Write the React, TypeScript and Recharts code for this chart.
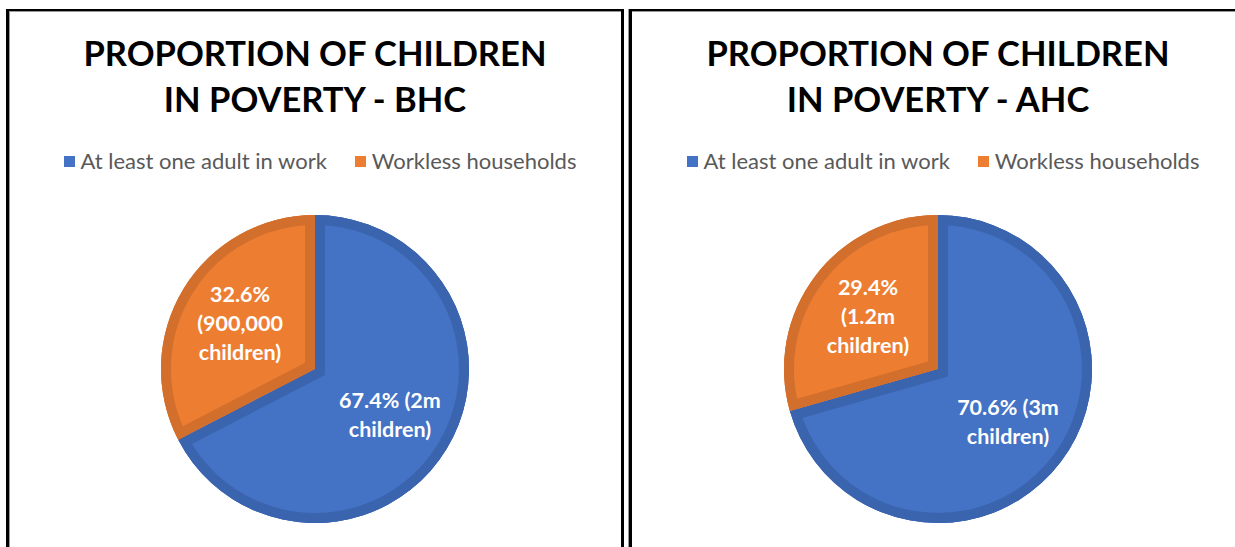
import React from 'react';
import { PieChart, Pie, Cell, Sector } from 'recharts';

// categories shared by both charts
const categories = ['At least one adult in work', 'Workless households'];

// before housing costs
const bhcShares = [67.4, 32.6];
const bhcLabels = [['67.4% (2m', 'children)'], ['32.6%', '(900,000', 'children)']];

// after housing costs
const ahcShares = [70.6, 29.4];
const ahcLabels = [['70.6% (3m', 'children)'], ['29.4%', '(1.2m', 'children)']];

const FILLS = ['#4472C4', '#ED7D31'];
const RIMS = ['#3B64AF', '#D36F2D'];
const FONT = 'Lato, "Open Sans", sans-serif';

const W = 616;
const H = 547;
const CX = 308;
const CY = 369;
const R = 154;
const RIM = 10;
const LINE = 29;

// draws an inner rim on each slice (clip + wide stroke) and the wrapped label
function makeLabel(chartId: string, lines: string[][]) {
  return (props: any) => {
    const { cx, cy, innerRadius, outerRadius, startAngle, endAngle, midAngle, index } = props;
    const clipId = `${chartId}-clip-${index}`;
    const rad = Math.PI / 180;
    const lr = outerRadius * 0.57;
    const x = cx + lr * Math.cos(-midAngle * rad);
    const y = cy + lr * Math.sin(-midAngle * rad);
    const text = lines[index];
    return (
      <g>
        <defs>
          <clipPath id={clipId}>
            <Sector cx={cx} cy={cy} innerRadius={innerRadius} outerRadius={outerRadius}
              startAngle={startAngle} endAngle={endAngle} />
          </clipPath>
        </defs>
        <g clipPath={`url(#${clipId})`}>
          <Sector cx={cx} cy={cy} innerRadius={innerRadius} outerRadius={outerRadius}
            startAngle={startAngle} endAngle={endAngle}
            fill={FILLS[index]} stroke={RIMS[index]} strokeWidth={RIM * 2} />
        </g>
        <text x={x} y={y} textAnchor="middle" dominantBaseline="central" fill="#fff"
          fontFamily={FONT} fontWeight={700} fontSize={21.5}>
          {text.map((t, i) => (
            <tspan key={i} x={x} dy={i === 0 ? -((text.length - 1) / 2) * LINE : LINE}>{t}</tspan>
          ))}
        </text>
      </g>
    );
  };
}

function PovertyPie({ id, title, shares, labels, center }: {
  id: string; title: string[]; shares: number[]; labels: string[][]; center: number;
}) {
  const data = categories.map((name, i) => ({ name, value: shares[i] }));
  return (
    <>
      <div style={{
        position: 'absolute', left: center - 300, top: 30, width: 600, textAlign: 'center',
        fontFamily: FONT, fontWeight: 700, fontSize: 34.5, lineHeight: '46px', letterSpacing: 0, color: '#000',
      }}>
        {title.map((t) => <div key={t}>{t}</div>)}
      </div>
      <div style={{
        position: 'absolute', left: center - 300 + 5, top: 148, width: 600, display: 'flex',
        justifyContent: 'center', fontFamily: FONT, fontSize: 22, lineHeight: '26px', color: '#595959',
      }}>
        {categories.map((c, i) => (
          <div key={c} style={{ display: 'flex', alignItems: 'center', marginRight: i === 0 ? 28 : 0 }}>
            <span style={{ width: 11, height: 11, background: FILLS[i], marginRight: 6, display: 'inline-block' }} />
            <span>{c}</span>
          </div>
        ))}
      </div>
      <div style={{ position: 'absolute', left: center - CX, top: 0 }}>
        <PieChart width={W} height={H} margin={{ top: 0, right: 0, bottom: 0, left: 0 }}>
          <Pie data={data} dataKey="value" nameKey="name" cx={CX} cy={CY} outerRadius={R}
            startAngle={90} endAngle={-270} stroke="none" isAnimationActive={false}
            label={makeLabel(id, labels)} labelLine={false}>
            {data.map((d, i) => <Cell key={d.name} fill={RIMS[i]} />)}
          </Pie>
        </PieChart>
      </div>
    </>
  );
}

export default function App() {
  return (
    <div style={{ position: 'absolute', left: 0, top: 0, width: 1235, height: 547, overflow: 'hidden', background: '#fff' }}>
      <div style={{
        position: 'absolute', left: 6, top: 9, width: 618, height: 600, boxSizing: 'border-box',
        borderLeft: '3px solid #000', borderRight: '3px solid #000', borderTop: '2px solid #000',
        boxShadow: 'inset 1px 1px 0 #999',
      }} />
      <div style={{
        position: 'absolute', left: 629, top: 9, width: 640, height: 600, boxSizing: 'border-box',
        borderLeft: '3px solid #000', borderTop: '2px solid #000', boxShadow: '-1px 0 0 #999, inset 0 1px 0 #999',
      }} />
      <PovertyPie id="bhc" title={['PROPORTION OF CHILDREN', 'IN POVERTY - BHC']}
        shares={bhcShares} labels={bhcLabels} center={315} />
      <PovertyPie id="ahc" title={['PROPORTION OF CHILDREN', 'IN POVERTY - AHC']}
        shares={ahcShares} labels={ahcLabels} center={938} />
    </div>
  );
}
